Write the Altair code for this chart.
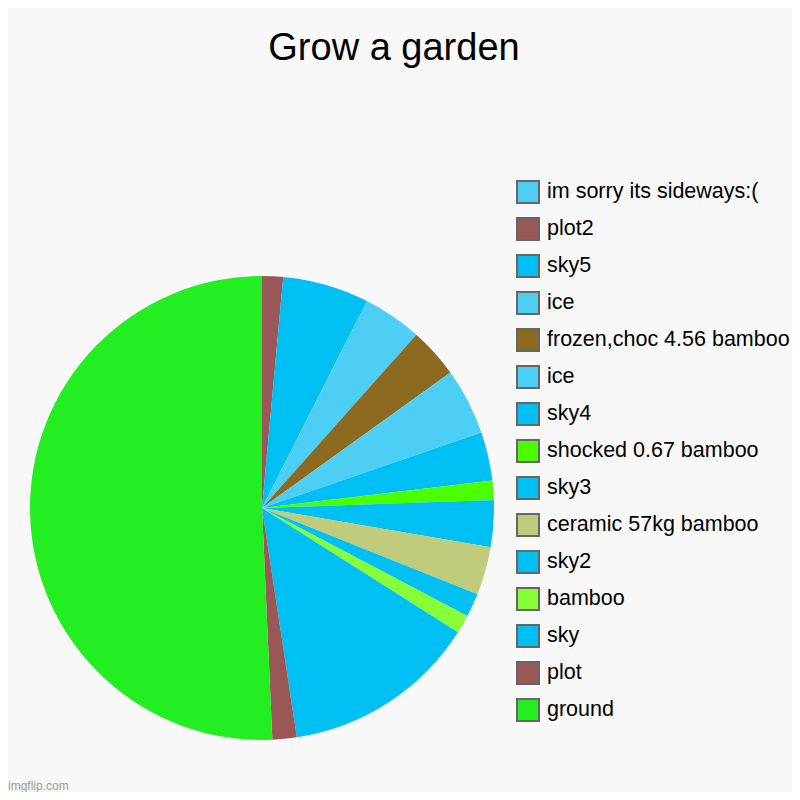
import altair as alt
import pandas as pd

names = ["im sorry its sideways:(", "plot2", "sky5", "ice", "frozen,choc 4.56 bamboo",
         "ice ", "sky4", "shocked 0.67 bamboo", "sky3", "ceramic 57kg bamboo",
         "sky2", "bamboo", "sky", "plot", "ground"]
values = [0, 1.46, 6.01, 4.11, 3.5, 4.64, 3.39, 1.33, 3.26, 3.35, 1.65, 1.29, 13.6, 1.69, 50.7]
colors = ["#4dcff5", "#995757", "#00bff3", "#4dcff5", "#8c6b21",
          "#4dcff5", "#00bff3", "#4bff00", "#00bff3", "#c0cc7b",
          "#00bff3", "#86ff36", "#00bff3", "#995757", "#22ee22"]

df = pd.DataFrame({"name": names, "value": values, "order": list(range(len(names)))})

T = 70
W = 784
H = 784 - T

pie = alt.Chart(df).mark_arc(radius=232, strokeWidth=0).encode(
    x=alt.value(254),
    y=alt.value(430),
    theta=alt.Theta("value:Q", stack=True),
    order=alt.Order("order:Q"),
    color=alt.Color(
        "name:N",
        sort=None,
        scale=alt.Scale(domain=names, range=colors),
        legend=alt.Legend(
            orient="none", legendX=508, legendY=102, title=None,
            symbolType="square", symbolSize=484, symbolStrokeColor="#666666",
            symbolStrokeWidth=2, symbolOpacity=1, labelFontSize=21.5,
            labelFont="Liberation Sans", labelColor="#000000", labelLimit=400,
            rowPadding=7, labelOffset=7, padding=0,
        ),
    ),
)

mark = alt.Chart(pd.DataFrame({"t": ["imgflip.com"]})).mark_text(
    align="left", baseline="alphabetic", fontSize=12, font="Liberation Sans", color="#9a9a9a"
).encode(x=alt.value(0), y=alt.value(H - 2), text="t:N")

chart = alt.layer(pie, mark).properties(
    width=W, height=H, autosize="none",
    padding={"left": 0, "top": T, "right": 0, "bottom": 0},
    title=alt.TitleParams("Grow a garden", fontSize=38, font="Liberation Sans",
                          fontWeight="normal", color="#000000", anchor="middle",
                          dx=-6, offset=10),
).configure(background="#f8f8f8").configure_view(stroke=None)

chart.save("out.html", embed_options={"renderer": "svg", "actions": False})
